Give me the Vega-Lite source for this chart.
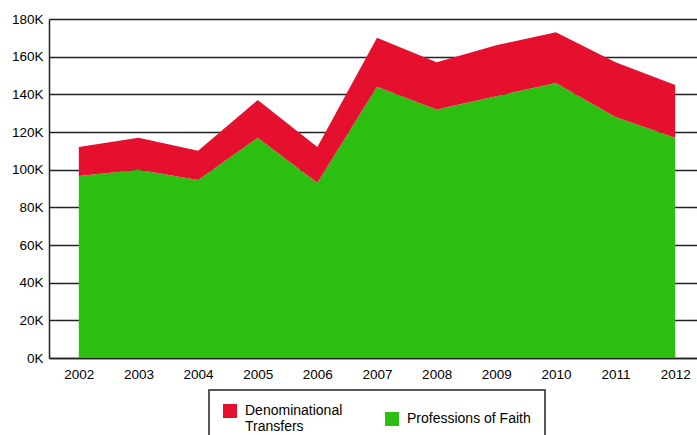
{
  "$schema": "https://vega.github.io/schema/vega-lite/v6.json",
  "autosize": "none",
  "padding": {"left": 49, "top": 19, "right": 0, "bottom": 77},
  "width": 656,
  "height": 339,
  "background": "white",
  "config": {
    "view": {"stroke": null},
    "font": "Liberation Sans"
  },
  "data": {
    "values": [
      {"year": 2002, "series": "Professions of Faith", "value": 96700},
      {"year": 2003, "series": "Professions of Faith", "value": 100000},
      {"year": 2004, "series": "Professions of Faith", "value": 94500},
      {"year": 2005, "series": "Professions of Faith", "value": 117000},
      {"year": 2006, "series": "Professions of Faith", "value": 93000},
      {"year": 2007, "series": "Professions of Faith", "value": 144000},
      {"year": 2008, "series": "Professions of Faith", "value": 132000},
      {"year": 2009, "series": "Professions of Faith", "value": 139000},
      {"year": 2010, "series": "Professions of Faith", "value": 146000},
      {"year": 2011, "series": "Professions of Faith", "value": 128000},
      {"year": 2012, "series": "Professions of Faith", "value": 117000},
      {"year": 2002, "series": "Denominational Transfers", "value": 15300},
      {"year": 2003, "series": "Denominational Transfers", "value": 17000},
      {"year": 2004, "series": "Denominational Transfers", "value": 15500},
      {"year": 2005, "series": "Denominational Transfers", "value": 20000},
      {"year": 2006, "series": "Denominational Transfers", "value": 19000},
      {"year": 2007, "series": "Denominational Transfers", "value": 26000},
      {"year": 2008, "series": "Denominational Transfers", "value": 25000},
      {"year": 2009, "series": "Denominational Transfers", "value": 27000},
      {"year": 2010, "series": "Denominational Transfers", "value": 27000},
      {"year": 2011, "series": "Denominational Transfers", "value": 29000},
      {"year": 2012, "series": "Denominational Transfers", "value": 28000}
    ]
  },
  "mark": {"type": "area", "opacity": 1},
  "encoding": {
    "x": {
      "field": "year",
      "type": "quantitative",
      "scale": {"domain": [2001.5, 2012.5], "nice": false, "zero": false},
      "axis": {
        "title": null,
        "values": [2002, 2003, 2004, 2005, 2006, 2007, 2008, 2009, 2010, 2011, 2012],
        "format": "d",
        "grid": false,
        "ticks": false,
        "domainColor": "#222222",
        "domainWidth": 1.5,
        "labelFontSize": 13.5,
        "labelColor": "#000000",
        "labelPadding": 9
      }
    },
    "y": {
      "field": "value",
      "type": "quantitative",
      "stack": "zero",
      "scale": {"domain": [0, 180000], "nice": false},
      "axis": {
        "title": null,
        "values": [0, 20000, 40000, 60000, 80000, 100000, 120000, 140000, 160000, 180000],
        "labelExpr": "(datum.value / 1000) + 'K'",
        "grid": true,
        "gridColor": "#222222",
        "gridWidth": 1.5,
        "gridOpacity": 1,
        "ticks": false,
        "domainColor": "#222222",
        "domainWidth": 1.5,
        "labelFontSize": 13.5,
        "labelColor": "#000000",
        "labelPadding": 6
      }
    },
    "color": {
      "field": "series",
      "type": "nominal",
      "scale": {
        "domain": ["Denominational Transfers", "Professions of Faith"],
        "range": ["#E4102E", "#2CBF12"]
      },
      "legend": {
        "title": null,
        "orient": "none",
        "direction": "horizontal",
        "legendX": 160,
        "legendY": 371,
        "symbolType": "square",
        "symbolSize": 196,
        "symbolStrokeWidth": 0,
        "symbolOpacity": 1,
        "labelFontSize": 14,
        "labelOffset": 8,
        "labelColor": "#000000",
        "labelExpr": "datum.label == 'Denominational Transfers' ? ['Denominational', 'Transfers'] : datum.label",
        "columnPadding": 42,
        "padding": 14,
        "strokeColor": "#222222",
        "fillColor": "white",
        "cornerRadius": 0,
        "encode": {"legend": {"update": {"strokeWidth": {"value": 1.5}}}}
      }
    },
    "order": {"field": "series", "sort": "descending"}
  }
}
